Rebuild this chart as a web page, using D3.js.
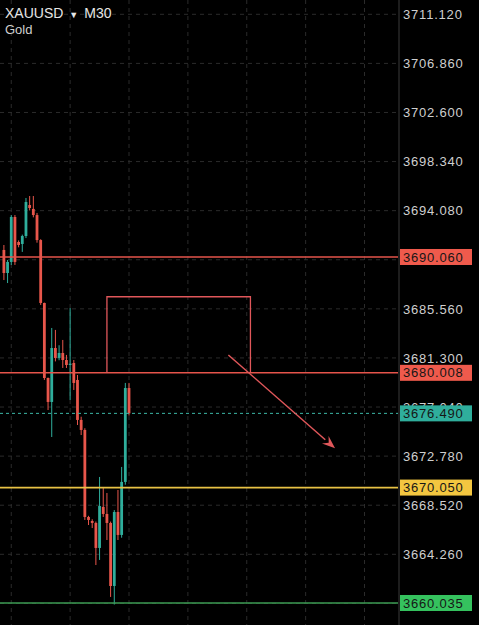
<!DOCTYPE html>
<html>
<head>
<meta charset="utf-8">
<script src="https://cdn.jsdelivr.net/npm/d3@7"></script>
<style>
  html, body { margin: 0; padding: 0; background: #000; }
  svg { display: block; }
  text { font-family: "Liberation Sans", Arial, sans-serif; }
</style>
</head>
<body>
<svg></svg>
<script>
// candles, M30, oldest first
var opens  = [3690.67, 3688.67, 3689.63, 3693.53, 3691.36, 3691.19, 3691.88, 3694.57, 3694.23, 3693.70,
              3691.53, 3686.07, 3679.56, 3677.48, 3682.16, 3681.30, 3681.73, 3681.12, 3680.69, 3680.86,
              3679.39, 3675.92, 3675.05, 3667.50, 3667.15, 3666.98, 3664.81, 3668.37, 3667.76, 3666.98,
              3661.51, 3667.93, 3665.94, 3670.54, 3678.69];
var highs  = [3691.10, 3689.80, 3693.70, 3693.70, 3691.50, 3692.00, 3695.18, 3695.35, 3695.35, 3693.88,
              3691.60, 3686.10, 3679.60, 3683.90, 3683.73, 3682.40, 3682.86, 3681.56, 3685.63, 3681.12,
              3679.82, 3676.20, 3675.20, 3667.60, 3667.30, 3667.10, 3670.97, 3670.01, 3669.58, 3667.10,
              3668.10, 3669.84, 3671.84, 3679.13, 3679.13];
var lows   = [3688.06, 3687.80, 3689.37, 3689.37, 3690.90, 3690.50, 3691.70, 3694.10, 3693.50, 3691.30,
              3685.90, 3679.39, 3676.78, 3674.44, 3681.00, 3681.10, 3680.43, 3680.43, 3677.65, 3678.52,
              3675.48, 3674.61, 3667.24, 3666.80, 3666.54, 3663.33, 3663.77, 3667.50, 3665.50, 3660.56,
              3659.90, 3665.50, 3665.70, 3670.30, 3676.30];
var closes = [3688.67, 3689.63, 3693.53, 3689.63, 3691.10, 3691.88, 3694.83, 3694.31, 3693.70, 3691.53,
              3686.07, 3679.56, 3677.48, 3682.16, 3681.30, 3681.73, 3681.12, 3680.69, 3680.80, 3679.13,
              3675.92, 3675.05, 3667.50, 3667.24, 3666.98, 3664.81, 3668.45, 3667.76, 3666.98, 3661.51,
              3667.93, 3665.94, 3670.54, 3678.69, 3676.49];

var tickValues = [3711.120, 3706.860, 3702.600, 3698.340, 3694.080, 3689.820, 3685.560,
                  3681.300, 3677.040, 3672.780, 3668.520, 3664.260, 3660.000];
// ticks whose label sits fully under a price tag
var coveredTicks = [3689.820, 3660.000];

var levelNames  = ["resistance", "zoneBase", "support", "low"];
var levelPrices = [3690.060, 3680.008, 3670.050, 3660.035];
var lastPrice = 3676.490;

// drawings: box (bar from, bar to, top price) and arrow (bar, price) -> (bar, price)
var boxBars = [28, 67];
var boxTop = 3686.61;
var arrowFrom = [61, 3681.56];
var arrowTo = [90, 3673.46];

var width = 479, height = 625, plotRight = 398;

var svg = d3.select("svg")
    .attr("width", width)
    .attr("height", height)
    .style("background", "#000");

var x = d3.scaleLinear().domain([34, 98]).range([129, 364.5]);
var y = d3.scaleLinear().domain([3711.12, 3664.26]).range([14.3, 554.3]);

var levelColor = { resistance: "#e5544b", zoneBase: "#e5544b", support: "#e8c245", low: "#3b9a52" };
var labelFill = { resistance: "#ef5a4c", zoneBase: "#ef5a4c", support: "#f3c640", low: "#35c25e" };
var up = "#2fae9c", down = "#e8564b";

// grid
var grid = svg.append("g").attr("class", "grid");
grid.selectAll(".vgrid")
    .data(d3.range(2, 99, 16))
  .enter().append("line")
    .attr("x1", d => x(d)).attr("x2", d => x(d))
    .attr("y1", 0).attr("y2", height)
    .attr("stroke", "#2b2b2b")
    .attr("stroke-dasharray", "4,4");
grid.selectAll(".hgrid")
    .data(tickValues)
  .enter().append("line")
    .attr("x1", 0).attr("x2", plotRight + 1)
    .attr("y1", d => y(d)).attr("y2", d => y(d))
    .attr("stroke", "#2b2b2b")
    .attr("stroke-dasharray", "4,4");

// candles
var idx = d3.range(opens.length);
var bw = 2.8;
var candle = svg.append("g").selectAll("g")
    .data(idx)
  .enter().append("g");

candle.append("line")
    .attr("x1", i => x(i)).attr("x2", i => x(i))
    .attr("y1", i => y(highs[i])).attr("y2", i => y(lows[i]))
    .attr("stroke", i => closes[i] >= opens[i] ? up : down)
    .attr("stroke-width", 1);

candle.append("rect")
    .attr("x", i => x(i) - bw / 2)
    .attr("width", bw)
    .attr("y", i => y(Math.max(opens[i], closes[i])))
    .attr("height", i => Math.max(1, Math.abs(y(opens[i]) - y(closes[i]))))
    .attr("fill", i => closes[i] >= opens[i] ? up : down);

// current price line
svg.append("line")
    .attr("x1", 0).attr("x2", plotRight)
    .attr("y1", y(lastPrice)).attr("y2", y(lastPrice))
    .attr("stroke", "#3cb7a6")
    .attr("stroke-dasharray", "3,3");

// horizontal levels
svg.selectAll(".level")
    .data(levelNames)
  .enter().append("line")
    .attr("class", "level")
    .attr("x1", 0).attr("x2", plotRight)
    .attr("y1", (d, i) => y(levelPrices[i])).attr("y2", (d, i) => y(levelPrices[i]))
    .attr("stroke", d => levelColor[d])
    .attr("stroke-width", 1.6);

// box drawing
var drawColor = "#e0575a";
svg.append("path")
    .attr("d", "M" + x(boxBars[0]) + "," + y(levelPrices[1]) +
               "V" + y(boxTop) + "H" + x(boxBars[1]) + "V" + y(levelPrices[1]))
    .attr("fill", "none")
    .attr("stroke", drawColor)
    .attr("stroke-width", 1.3);

// arrow
var ax0 = x(arrowFrom[0]), ay0 = y(arrowFrom[1]);
var ax1 = x(arrowTo[0]), ay1 = y(arrowTo[1]);
var ang = Math.atan2(ay1 - ay0, ax1 - ax0);
var headLen = 13, headW = 5;
var bx = ax1 - headLen * Math.cos(ang), by = ay1 - headLen * Math.sin(ang);
svg.append("line")
    .attr("x1", ax0).attr("y1", ay0)
    .attr("x2", bx).attr("y2", by)
    .attr("stroke", drawColor)
    .attr("stroke-width", 1.5);
svg.append("path")
    .attr("d", "M" + ax1 + "," + ay1 +
               "L" + (bx + headW * Math.sin(ang)) + "," + (by - headW * Math.cos(ang)) +
               "L" + (bx + 0.35 * headLen * Math.cos(ang)) + "," + (by + 0.35 * headLen * Math.sin(ang)) +
               "L" + (bx - headW * Math.sin(ang)) + "," + (by + headW * Math.cos(ang)) + "Z")
    .attr("fill", drawColor);

// price axis
svg.append("rect")
    .attr("x", plotRight + 1).attr("y", 0)
    .attr("width", width - plotRight - 1).attr("height", height)
    .attr("fill", "#000");
svg.append("line")
    .attr("x1", plotRight + 1).attr("x2", plotRight + 1)
    .attr("y1", 0).attr("y2", height)
    .attr("stroke", "#3a3a3a");

var fmt = d3.format(".3f");
var axis = d3.axisRight(y)
    .tickValues(tickValues)
    .tickFormat(d => coveredTicks.indexOf(d) >= 0 ? "" : fmt(d))
    .tickSize(0)
    .tickPadding(4);

var gAxis = svg.append("g")
    .attr("transform", "translate(" + (plotRight + 1) + ",0)")
    .call(axis);
gAxis.select(".domain").remove();
gAxis.selectAll("text")
    .attr("fill", "#cfcfcf")
    .style("font-family", "'Liberation Sans', Arial, sans-serif")
    .style("font-size", "13px")
    .style("letter-spacing", "0.8px");

// level price tags
var tags = svg.selectAll(".tag")
    .data(levelNames.concat(["last"]))
  .enter().append("g")
    .attr("class", "tag")
    .attr("transform", (d, i) => "translate(400," + y(i < 4 ? levelPrices[i] : lastPrice) + ")");
tags.append("rect")
    .attr("x", 0).attr("y", -8)
    .attr("width", 72).attr("height", 16)
    .attr("fill", d => d == "last" ? "#2fae9c" : labelFill[d]);
tags.append("text")
    .attr("x", 3).attr("y", 0)
    .attr("dy", "0.35em")
    .attr("fill", "#161616")
    .style("font-size", "13px")
    .style("letter-spacing", "0.8px")
    .text((d, i) => fmt(i < 4 ? levelPrices[i] : lastPrice));

// symbol header
var head = svg.append("text")
    .attr("x", 5).attr("y", 18)
    .attr("fill", "#e6e6e6")
    .style("font-size", "14px");
head.append("tspan").text("XAUUSD");
head.append("tspan").attr("dx", 6).style("font-size", "9px").text("▼");
head.append("tspan").attr("dx", 6).text("M30");

svg.append("text")
    .attr("x", 5).attr("y", 34)
    .attr("fill", "#cfcfcf")
    .style("font-size", "13px")
    .text("Gold");
</script>
</body>
</html>
